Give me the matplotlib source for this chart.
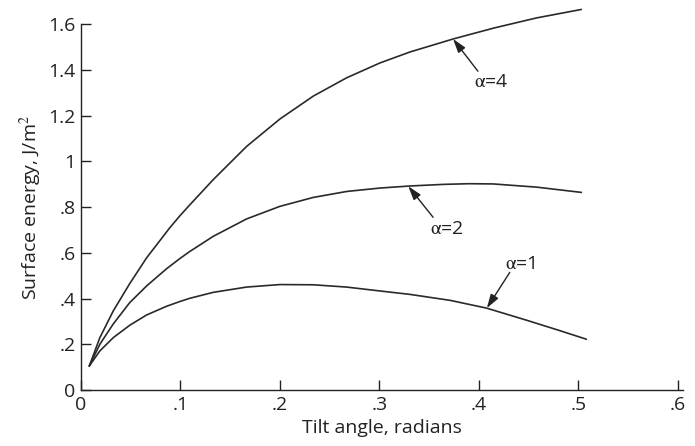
import matplotlib
matplotlib.use("Agg")
import matplotlib.pyplot as plt

plt.rcParams['font.family'] = ['Open Sans', 'DejaVu Sans']
plt.rcParams['mathtext.fontset'] = 'stix'

# Tilt angle (radians) and grain-boundary surface energy (J/m^2) for each alpha
theta_a1 = [0.0084, 0.019, 0.0325, 0.049, 0.066, 0.086, 0.0995, 0.1095, 0.133, 0.1665,
            0.200, 0.2335, 0.267, 0.3005, 0.3307, 0.371, 0.4077, 0.448, 0.481, 0.508]
energy_a1 = [0.105, 0.171, 0.229, 0.283, 0.328, 0.366, 0.387, 0.401, 0.427, 0.450,
             0.461, 0.460, 0.450, 0.433, 0.418, 0.392, 0.358, 0.305, 0.260, 0.222]

theta_a2 = [0.0084, 0.019, 0.0325, 0.049, 0.066, 0.086, 0.0995, 0.1095, 0.133, 0.1665,
            0.200, 0.2335, 0.267, 0.3005, 0.3307, 0.364, 0.390, 0.4144, 0.458, 0.503]
energy_a2 = [0.105, 0.200, 0.289, 0.382, 0.455, 0.530, 0.575, 0.606, 0.672, 0.748,
             0.803, 0.842, 0.868, 0.883, 0.892, 0.899, 0.902, 0.901, 0.887, 0.864]

theta_a4 = [0.0084, 0.019, 0.0325, 0.049, 0.066, 0.0894, 0.0995, 0.1095, 0.133, 0.1665,
            0.200, 0.2335, 0.267, 0.3005, 0.3307, 0.3742, 0.4144, 0.458, 0.503]
energy_a4 = [0.105, 0.229, 0.346, 0.465, 0.578, 0.710, 0.762, 0.810, 0.920, 1.065,
             1.185, 1.285, 1.365, 1.430, 1.478, 1.535, 1.582, 1.627, 1.664]

x_ticks = [0, 0.1, 0.2, 0.3, 0.4, 0.5, 0.6]
x_tick_labels = ['0', '.1', '.2', '.3', '.4', '.5', '.6']
y_ticks = [0, 0.2, 0.4, 0.6, 0.8, 1.0, 1.2, 1.4, 1.6]
y_tick_labels = ['0', '.2', '.4', '.6', '.8', '1', '1.2', '1.4', '1.6']

# curve label, arrow tip on the curve, arrow tail, label centre
labels = [
    (r'$\mathrm{\alpha}$=4', (0.374, 1.535), (0.399, 1.394), (0.412, 1.346)),
    (r'$\mathrm{\alpha}$=2', (0.329, 0.891), (0.354, 0.755), (0.3675, 0.704)),
    (r'$\mathrm{\alpha}$=1', (0.408, 0.358), (0.431, 0.514), (0.4415, 0.550)),
]

fig = plt.figure(figsize=(6.95, 4.46), dpi=100)
ax = fig.add_axes([0.1165, 0.1256, 0.866, 0.8204])

ink = '#222222'
for th, en in [(theta_a1, energy_a1), (theta_a2, energy_a2), (theta_a4, energy_a4)]:
    ax.plot(th, en, color='#2a2a2a', lw=1.2, solid_capstyle='round',
            solid_joinstyle='round', clip_on=False)

for txt, tip, tail, pos in labels:
    ax.annotate('', xy=tip, xytext=tail,
                arrowprops=dict(arrowstyle='-|>,head_length=0.7,head_width=0.22',
                                color=ink, lw=1.0, mutation_scale=12,
                                shrinkA=0, shrinkB=0))
    ax.text(pos[0], pos[1], txt, fontsize=14, color=ink, ha='center', va='center')

ax.set_xlim(0, 0.605)
ax.set_ylim(0, 1.6)
ax.set_xticks(x_ticks)
ax.set_xticklabels(x_tick_labels)
ax.set_yticks(y_ticks)
ax.set_yticklabels(y_tick_labels)
ax.tick_params(direction='in', length=7, width=1.0, labelsize=14, colors=ink, pad=4)

for s in ['top', 'right']:
    ax.spines[s].set_visible(False)
for s in ['left', 'bottom']:
    ax.spines[s].set_linewidth(1.0)
    ax.spines[s].set_color(ink)

ax.set_xlabel('Tilt angle, radians', fontsize=14, color=ink, labelpad=4)
ax.set_ylabel('Surface energy, J/m$^2$', fontsize=14, color=ink, labelpad=3)

fig.savefig('out.png', dpi=100, facecolor='white')
